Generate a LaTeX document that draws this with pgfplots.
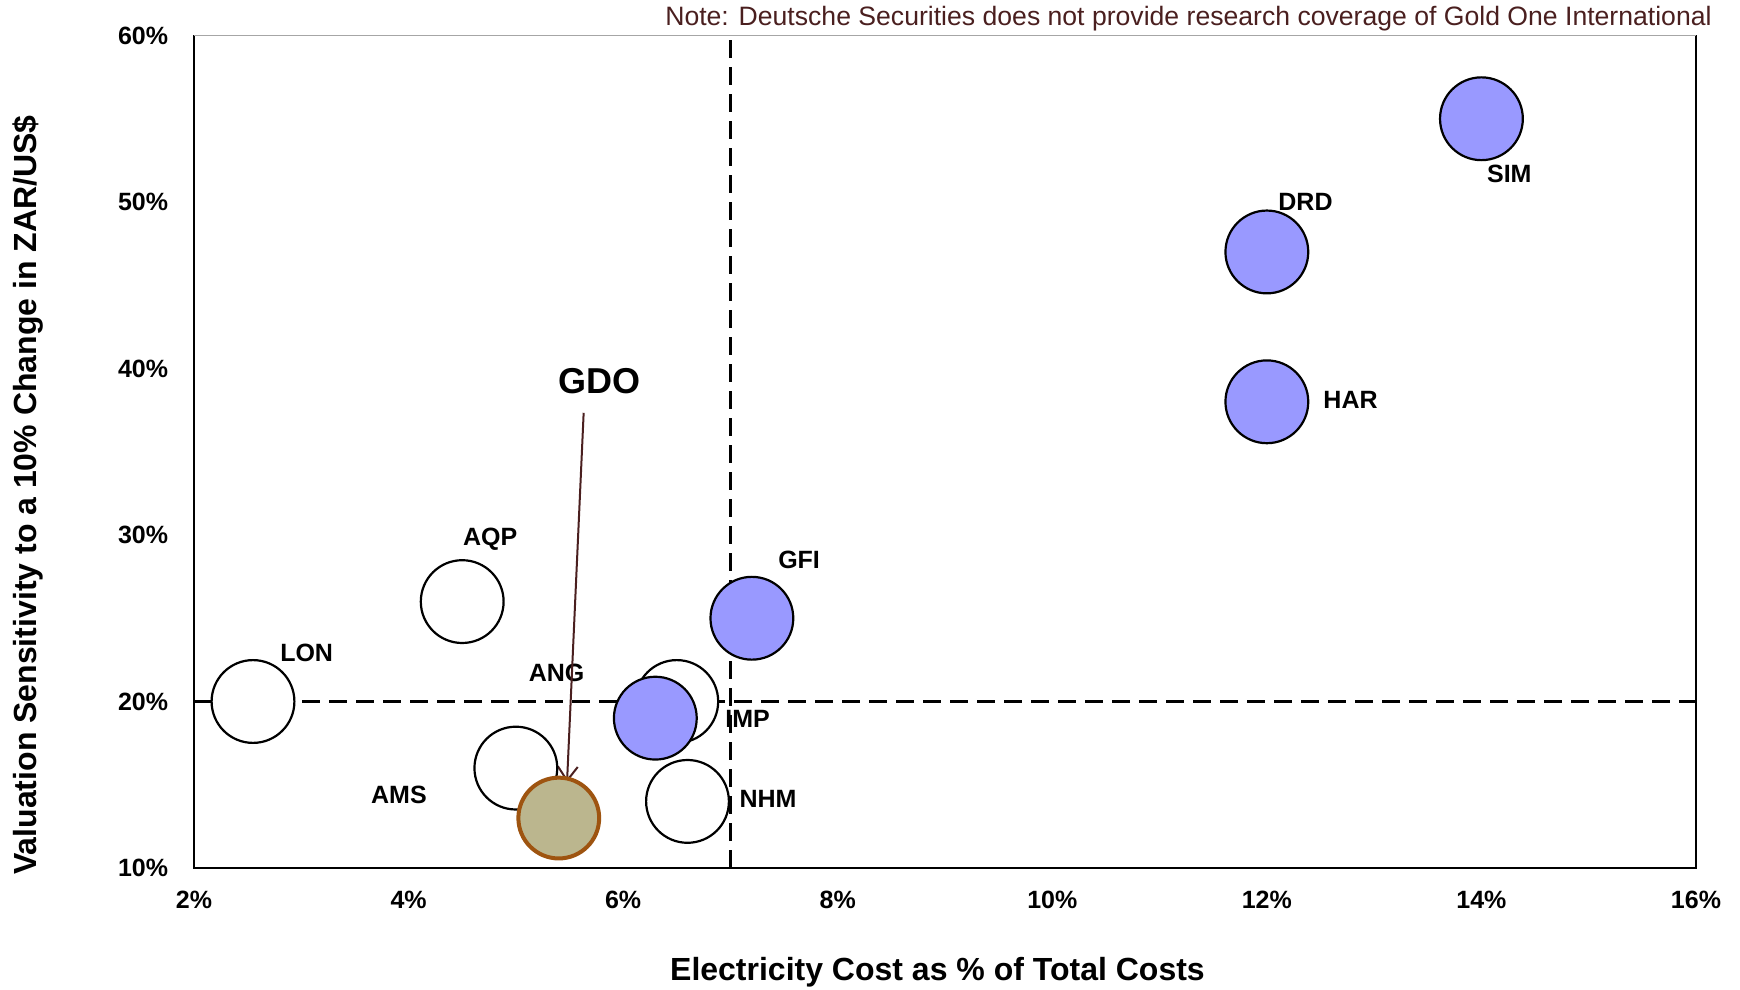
\documentclass[border=0pt]{standalone}
\usepackage{fontspec}
\setmainfont{Liberation Sans}
\usepackage{pgfplots}
\pgfplotsset{compat=1.18}
\usetikzlibrary{arrows.meta}
\definecolor{bubblue}{HTML}{9999FF}
\definecolor{gdofill}{HTML}{BBB68E}
\definecolor{gdoedge}{HTML}{9E5410}
\definecolor{notec}{HTML}{4A1F1F}
\begin{document}
\begin{tikzpicture}
\path[use as bounding box] (-97pt,-61pt) rectangle (773pt,434pt);
\begin{axis}[
  scale only axis, width=751pt, height=416.25pt,
  xmin=2, xmax=16, ymin=10, ymax=60,
  xtick={2,4,...,16}, ytick={10,20,...,60},
  major tick length=0pt,
  xticklabel={\pgfmathprintnumber{\tick}\%},
  yticklabel={\pgfmathprintnumber{\tick}\%},
  /pgf/number format/assume math mode=true,
  ticklabel style={font=\fontsize{12.5}{14}\selectfont\bfseries},
  xticklabel style={anchor=center, yshift=-16pt},
  yticklabel style={anchor=east, xshift=-9.4pt},
  clip=false,
  axis line style={line width=0.8pt},
  xlabel={Electricity Cost as \% of Total Costs},
  ylabel={Valuation Sensitivity to a 10\% Change in ZAR/US\$},
  label style={font=\fontsize{16}{19}\selectfont\bfseries},
  xlabel style={at={(axis description cs:0.495,-0.125)}, anchor=center},
  ylabel style={at={(axis description cs:-0.1105,0.448)}, anchor=center},
]
\draw[gray!70, line width=0.8pt] (rel axis cs:0,1) -- (rel axis cs:1,1);
% quadrant lines
\addplot[black, line width=1.2pt, dash pattern=on 9pt off 4.5pt] coordinates {(7,10) (7,60)};
\addplot[black, line width=1.2pt, dash pattern=on 9pt off 4.5pt] coordinates {(2,20) (16,20)};
% white bubbles: LON, AQP, AMS, IMP, NHM
\addplot[only marks, mark=*, mark size=20.7pt, mark options={fill=white, draw=black, line width=1.1pt}]
  coordinates {(2.55,20) (4.5,26) (5.0,16) (6.5,20) (6.6,14)};
% blue bubbles: ANG, GFI, HAR, DRD, SIM
\addplot[only marks, mark=*, mark size=20.7pt, mark options={fill=bubblue, draw=black, line width=1.1pt}]
  coordinates {(6.3,19) (7.2,25) (12,38) (12,47) (14,55)};
% GDO
\addplot[only marks, mark=*, mark size=20.2pt, mark options={fill=gdofill, draw=gdoedge, line width=2pt}]
  coordinates {(5.4,13)};
% labels
\begin{scope}[every node/.style={font=\fontsize{12.5}{14}\selectfont\bfseries}]
\node at (axis cs:14.26,51.67) {SIM};
\node at (axis cs:12.36,50.0) {DRD};
\node at (axis cs:12.78,38.13) {HAR};
\node at (axis cs:7.64,28.53) {GFI};
\node at (axis cs:4.76,29.73) {AQP};
\node at (axis cs:3.05,22.93) {LON};
\node at (axis cs:5.38,21.73) {ANG};
\node at (axis cs:7.16,18.93) {IMP};
\node at (axis cs:3.91,14.4) {AMS};
\node at (axis cs:7.35,14.13) {NHM};
\end{scope}
\node[font=\fontsize{18}{21}\selectfont\bfseries] at (axis cs:5.78,39.27) {GDO};
\draw[notec, line width=1pt, -{Straight Barb[length=7pt,width=10pt]}] (axis cs:5.632,37.34) -- (axis cs:5.477,15.15);
\node[anchor=east, text=notec, font=\fontsize{13.3}{15}\selectfont, inner sep=0pt] at (rel axis cs:1.0107,1.0201) {Note: Deutsche Securities does not provide research coverage of Gold One International};
\end{axis}
\end{tikzpicture}
\end{document}
